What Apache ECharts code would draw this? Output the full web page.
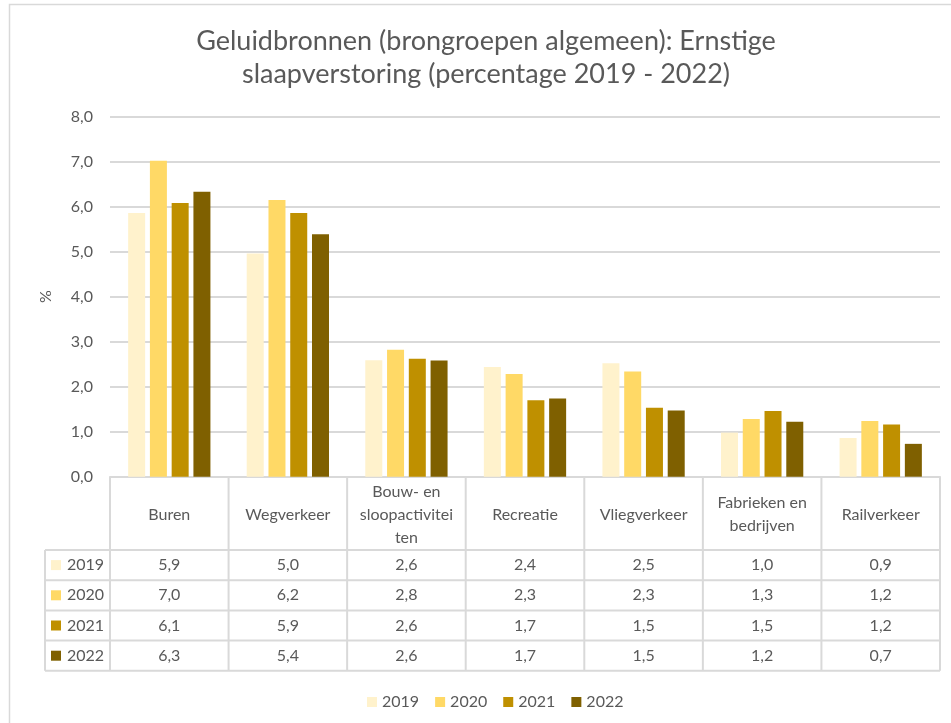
<!DOCTYPE html>
<html>
<head>
<meta charset="utf-8">
<script src="https://cdn.jsdelivr.net/npm/echarts@6/dist/echarts.min.js"></script>
<style>html,body{margin:0;padding:0;background:#fff;}#c{width:951px;height:723px;}</style>
</head>
<body>
<div id="c"></div>
<script>
var categories = ['Buren', 'Wegverkeer', 'Bouw- en sloopactiviteiten', 'Recreatie', 'Vliegverkeer', 'Fabrieken en bedrijven', 'Railverkeer'];
var headerLabels = ['Buren', 'Wegverkeer', 'Bouw- en\nsloopactivitei\nten', 'Recreatie', 'Vliegverkeer', 'Fabrieken en\nbedrijven', 'Railverkeer'];
var years = ['2019', '2020', '2021', '2022'];
var v2019 = [5.86, 4.96, 2.59, 2.44, 2.52, 0.98, 0.86];
var v2020 = [7.02, 6.15, 2.82, 2.28, 2.34, 1.28, 1.24];
var v2021 = [6.08, 5.86, 2.62, 1.70, 1.53, 1.46, 1.16];
var v2022 = [6.33, 5.39, 2.58, 1.74, 1.47, 1.22, 0.73];
var yTicks = [0, 1, 2, 3, 4, 5, 6, 7, 8];
var colors = ['#FFF2CC', '#FFD966', '#BF9000', '#7F6000'];
var seriesValues = [v2019, v2020, v2021, v2022];

var FONT = 'Lato, "Open Sans", sans-serif';
var TXT = '#595959';
var LINE = '#d9d9d9';
var W = 951, H = 723;
var gL = 110, gR = 940, gT = 116.7, gB = 476.7;
var rowTop = 550, rowH = 30.2, tblLeft = 45;

function fmt(v) { return v.toFixed(1).replace('.', ','); }

var chart = echarts.init(document.getElementById('c'), null, {renderer: 'canvas'});

var graphics = [];
// outer border
graphics.push({type: 'rect', shape: {x: 9.5, y: 4.5, width: 1000, height: 800}, style: {fill: null, stroke: LINE, lineWidth: 1.5}, silent: true});
// title
graphics.push({type: 'text', x: 486, y: 58, style: {text: 'Geluidbronnen (brongroepen algemeen): Ernstige\nslaapverstoring (percentage 2019 - 2022)', font: '27px ' + FONT, fill: TXT, align: 'center', verticalAlign: 'middle', lineHeight: 33}});

var n = categories.length;
var cw = (gR - gL) / n;
var rowsBottom = rowTop + rowH * years.length;
// table lines
var lines = [];
lines.push([gL, gB, gL, rowsBottom]);
lines.push([gR, gB, gR, rowsBottom]);
for (var i = 1; i < n; i++) lines.push([gL + cw * i, gB, gL + cw * i, rowsBottom]);
lines.push([tblLeft, rowTop, tblLeft, rowsBottom]);
for (var r = 0; r <= years.length; r++) lines.push([tblLeft, rowTop + rowH * r, gR, rowTop + rowH * r]);
lines.forEach(function (l) {
  graphics.push({type: 'line', shape: {x1: l[0], y1: l[1], x2: l[2], y2: l[3]}, style: {stroke: LINE, lineWidth: 2}, silent: true});
});
// header labels
for (var i = 0; i < n; i++) {
  graphics.push({type: 'text', x: gL + cw * (i + 0.5), y: (gB + rowTop) / 2 + 1, style: {text: headerLabels[i], font: '16px ' + FONT, fill: TXT, align: 'center', verticalAlign: 'middle', lineHeight: 23}});
}
// rows
for (var r = 0; r < years.length; r++) {
  var cy = rowTop + rowH * (r + 0.5);
  graphics.push({type: 'rect', shape: {x: 51, y: cy - 5, width: 10, height: 10}, style: {fill: colors[r]}});
  graphics.push({type: 'text', x: 67, y: cy, style: {text: years[r], font: '16px ' + FONT, fill: TXT, align: 'left', verticalAlign: 'middle'}});
  for (var i = 0; i < n; i++) {
    graphics.push({type: 'text', x: gL + cw * (i + 0.5), y: cy, style: {text: fmt(seriesValues[r][i]), font: '16px ' + FONT, fill: TXT, align: 'center', verticalAlign: 'middle'}});
  }
}

var option = {
  backgroundColor: '#fff',
  animation: false,
  textStyle: {fontFamily: FONT},
  grid: {left: gL, right: W - gR, top: gT, bottom: H - gB, containLabel: false},
  legend: {
    data: years, top: 689, left: 362, icon: 'rect', itemWidth: 10, itemHeight: 10, itemGap: 16,
    textStyle: {color: TXT, fontSize: 16, fontFamily: FONT}
  },
  xAxis: {
    type: 'category', data: categories,
    axisLine: {lineStyle: {color: LINE, width: 2}},
    axisTick: {show: false},
    axisLabel: {show: false}
  },
  yAxis: {
    type: 'value', min: yTicks[0], max: yTicks[yTicks.length - 1], interval: 1,
    name: '%', nameLocation: 'middle', nameGap: 56, nameRotate: 90,
    nameTextStyle: {color: TXT, fontSize: 16, fontFamily: FONT},
    axisLine: {show: false}, axisTick: {show: false},
    axisLabel: {color: TXT, fontSize: 16, fontFamily: FONT, margin: 17, formatter: function (v) { return fmt(v); }},
    splitLine: {lineStyle: {color: LINE, width: 2}}
  },
  series: years.map(function (y, k) {
    return {name: y, type: 'bar', data: seriesValues[k], barWidth: 17, barGap: '28%', itemStyle: {color: colors[k]}};
  }),
  graphic: graphics
};
chart.setOption(option);
</script>
</body>
</html>
